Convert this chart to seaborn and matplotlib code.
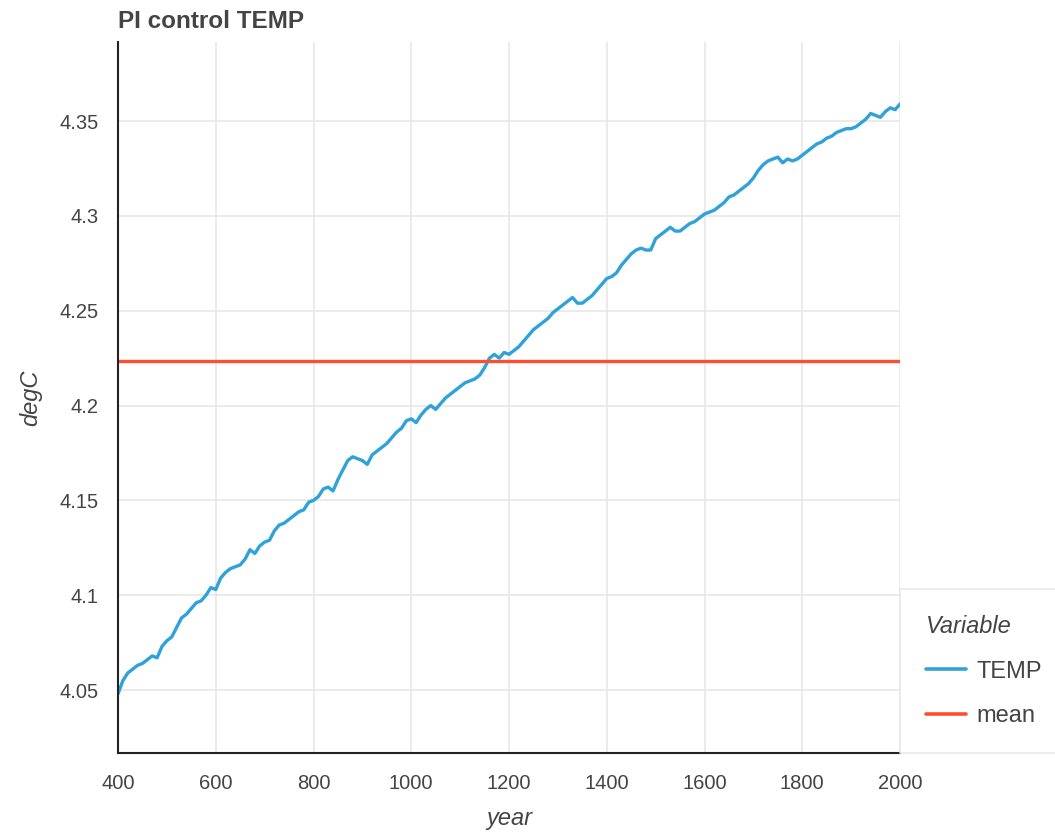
import numpy as np
import pandas as pd
import matplotlib
matplotlib.use("Agg")
import matplotlib.pyplot as plt
import seaborn as sns

# Annual-mean ocean temperature of the pre-industrial control run, sampled every 10 years
years = list(range(400, 2001, 10))
temp = [
    4.048, 4.055, 4.059, 4.061, 4.063, 4.064, 4.066, 4.068, 4.067, 4.073,
    4.076, 4.078, 4.083, 4.088, 4.090, 4.093, 4.096, 4.097, 4.100, 4.104,
    4.103, 4.109, 4.112, 4.114, 4.115, 4.116, 4.119, 4.124, 4.122, 4.126,
    4.128, 4.129, 4.134, 4.137, 4.138, 4.140, 4.142, 4.144, 4.145, 4.149,
    4.150, 4.152, 4.156, 4.157, 4.155, 4.161, 4.166, 4.171, 4.173, 4.172,
    4.171, 4.169, 4.174, 4.176, 4.178, 4.180, 4.183, 4.186, 4.188, 4.192,
    4.193, 4.191, 4.195, 4.198, 4.200, 4.198, 4.201, 4.204, 4.206, 4.208,
    4.210, 4.212, 4.213, 4.214, 4.216, 4.220, 4.225, 4.227, 4.225, 4.228,
    4.227, 4.229, 4.231, 4.234, 4.237, 4.240, 4.242, 4.244, 4.246, 4.249,
    4.251, 4.253, 4.255, 4.257, 4.254, 4.254, 4.256, 4.258, 4.261, 4.264,
    4.267, 4.268, 4.270, 4.274, 4.277, 4.280, 4.282, 4.283, 4.282, 4.282,
    4.288, 4.290, 4.292, 4.294, 4.292, 4.292, 4.294, 4.296, 4.297, 4.299,
    4.301, 4.302, 4.303, 4.305, 4.307, 4.310, 4.311, 4.313, 4.315, 4.317,
    4.320, 4.324, 4.327, 4.329, 4.330, 4.331, 4.328, 4.330, 4.329, 4.330,
    4.332, 4.334, 4.336, 4.338, 4.339, 4.341, 4.342, 4.344, 4.345, 4.346,
    4.346, 4.347, 4.349, 4.351, 4.354, 4.353, 4.352, 4.355, 4.357, 4.356,
    4.359,
]
mean_value = 4.2235

variables = ["TEMP", "mean"]
colors = ["#30a2da", "#fc4f30"]

xtick_values = [400, 600, 800, 1000, 1200, 1400, 1600, 1800, 2000]
ytick_values = [4.05, 4.1, 4.15, 4.2, 4.25, 4.3, 4.35]
ytick_labels = ["4.05", "4.1", "4.15", "4.2", "4.25", "4.3", "4.35"]

df = pd.concat([
    pd.DataFrame({"year": years, "degC": temp, "Variable": variables[0]}),
    pd.DataFrame({"year": years, "degC": [mean_value] * len(years), "Variable": variables[1]}),
], ignore_index=True)

sns.set_theme(style="whitegrid", rc={
    "grid.color": "#e6e6e6",
    "grid.linewidth": 1.1,
    "axes.edgecolor": "#222222",
    "axes.linewidth": 1.5,
})
plt.rcParams["font.family"] = ["Liberation Sans", "DejaVu Sans"]

text_color = "#444444"

fig = plt.figure(figsize=(10.55, 8.38), dpi=100)
ax = fig.add_axes([118 / 1055, 1 - 753 / 838, (900 - 118) / 1055, (753 - 42) / 838])

sns.lineplot(data=df, x="year", y="degC", hue="Variable", hue_order=variables,
             palette=colors, linewidth=2.4, ax=ax, legend=True)

ax.set_xlim(400, 2000)
ax.set_ylim(4.0168, 4.3917)
ax.set_xticks(xtick_values)
ax.set_xticklabels([str(v) for v in xtick_values])
ax.set_yticks(ytick_values)
ax.set_yticklabels(ytick_labels)

for side in ("top", "right"):
    ax.spines[side].set_visible(False)
for side in ("left", "bottom"):
    ax.spines[side].set_color("#222222")
    ax.spines[side].set_linewidth(1.5)

ax.tick_params(axis="both", which="major", direction="out", length=8, width=1.1,
               color="#222222", labelsize=14.5, labelcolor=text_color, pad=6)
ax.tick_params(axis="x", pad=7)

ax.set_xlabel("year", fontsize=17, style="italic", color=text_color, labelpad=10)
ax.set_ylabel("degC", fontsize=17, style="italic", color=text_color, labelpad=12)
ax.set_title("PI control TEMP", loc="left", fontsize=17.5, fontweight="bold",
             color=text_color, pad=10)

leg = ax.legend(title="Variable", loc="lower left", bbox_to_anchor=(1.0, 0.0),
                borderaxespad=0, frameon=True, fancybox=False, fontsize=17,
                title_fontsize=17, handlelength=1.7, handletextpad=0.45,
                labelspacing=0.95, borderpad=1.1, alignment="left")
leg.get_frame().set_edgecolor("#e5e5e5")
leg.get_frame().set_linewidth(1.2)
leg.get_title().set_style("italic")
leg.get_title().set_color(text_color)
for t in leg.get_texts():
    t.set_color(text_color)
for h in leg.legend_handles:
    h.set_linewidth(2.6)

fig.savefig("out.png", dpi=100)
